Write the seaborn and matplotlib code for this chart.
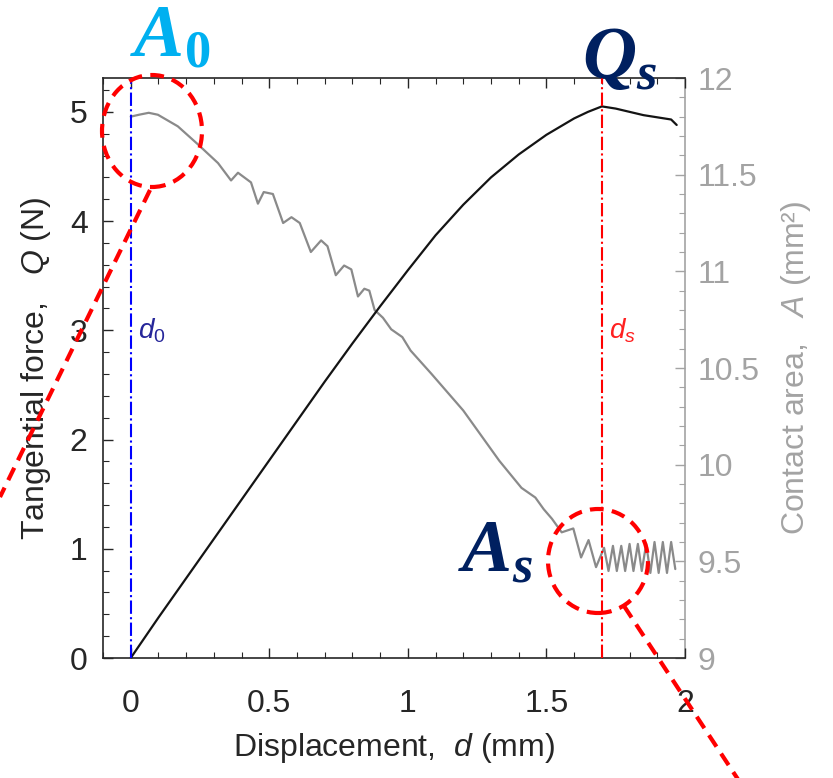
import matplotlib
matplotlib.use('Agg')
import matplotlib.pyplot as plt
import seaborn as sns
import pandas as pd
from matplotlib.patches import Ellipse
from matplotlib.lines import Line2D
from matplotlib.ticker import MultipleLocator

# ---------------- data ----------------
d_force = [0, 0.1, 0.2, 0.3, 0.4, 0.5, 0.6, 0.7, 0.8, 0.9, 1.0, 1.1, 1.2, 1.3,
           1.4, 1.5, 1.6, 1.65, 1.7, 1.75, 1.8, 1.85, 1.9, 1.95, 1.97]
force_Q = [0, 0.37, 0.73, 1.09, 1.45, 1.81, 2.17, 2.53, 2.88, 3.22, 3.55, 3.87,
           4.15, 4.40, 4.61, 4.79, 4.94, 5.00, 5.05, 5.03, 5.00, 4.97, 4.95,
           4.93, 4.88]

d_area = [0.0, 0.03, 0.065, 0.098, 0.17, 0.24, 0.315, 0.362, 0.387, 0.434,
          0.459, 0.48, 0.513, 0.55, 0.58, 0.61, 0.65, 0.687, 0.71, 0.74, 0.77,
          0.796, 0.82, 0.843, 0.861, 0.88, 0.91, 0.94, 0.96, 0.98, 1.01, 1.085,
          1.20, 1.33, 1.41, 1.46, 1.49, 1.52, 1.555, 1.597, 1.625, 1.652,
          1.679, 1.708, 1.724, 1.740, 1.754, 1.770, 1.784, 1.800, 1.814,
          1.830, 1.844, 1.860, 1.875, 1.890, 1.905, 1.920, 1.935, 1.950, 1.965]
area_A = [11.80, 11.81, 11.82, 11.81, 11.75, 11.66, 11.56, 11.47, 11.51, 11.46,
          11.35, 11.41, 11.40, 11.25, 11.28, 11.25, 11.10, 11.16, 11.13, 10.98,
          11.03, 11.01, 10.87, 10.91, 10.90, 10.80, 10.76, 10.70, 10.68, 10.66,
          10.59, 10.47, 10.28, 10.02, 9.88, 9.83, 9.77, 9.72, 9.65, 9.67, 9.52,
          9.61, 9.47, 9.57, 9.45, 9.58, 9.45, 9.58, 9.45, 9.59, 9.45, 9.59,
          9.45, 9.59, 9.44, 9.60, 9.44, 9.60, 9.44, 9.60, 9.46]

d0_value = 0.0
ds_value = 1.7

x_ticks = [0, 0.5, 1, 1.5, 2]
x_tick_labels = ['0', '0.5', '1', '1.5', '2']
left_ticks = [0, 1, 2, 3, 4, 5]
right_ticks = [9, 9.5, 10, 10.5, 11, 11.5, 12]
right_tick_labels = ['9', '9.5', '10', '10.5', '11', '11.5', '12']

# ---------------- style ----------------
sns.set_style('ticks')
plt.rcParams['font.family'] = ['Liberation Sans', 'DejaVu Sans']
plt.rcParams['mathtext.fontset'] = 'custom'
plt.rcParams['mathtext.rm'] = 'Liberation Sans'
plt.rcParams['mathtext.it'] = 'Liberation Sans:italic'
plt.rcParams['mathtext.bf'] = 'Liberation Serif:bold'
plt.rcParams['mathtext.bfit'] = 'Liberation Serif:italic:bold'

GRAY = '#a3a3a3'
BLACK = '#262626'

fig = plt.figure(figsize=(8.33, 7.78), dpi=100)
ax = fig.add_axes([103 / 833, 1 - 658 / 778, (685 - 103) / 833, (658 - 78) / 778])
ax2 = ax.twinx()

df_q = pd.DataFrame({'d': d_force, 'Q': force_Q})
df_a = pd.DataFrame({'d': d_area, 'A': area_A})

sns.lineplot(data=df_a, x='d', y='A', ax=ax2, color='#8a8a8a', lw=1.6, zorder=2)
sns.lineplot(data=df_q, x='d', y='Q', ax=ax, color='#141414', lw=1.6, zorder=3)
for ln in ax2.get_lines() + ax.get_lines():
    ln.set_solid_joinstyle('round')

ax.axvline(d0_value, color='#0000ff', ls='-.', lw=1.5, zorder=4)
ax.axvline(ds_value, color='#ff0000', ls='-.', lw=1.5, zorder=4)

ax.set_xlim(-0.1, 2.0)
ax.set_ylim(0, 5.31)
ax2.set_ylim(9, 12)

ax.set_xticks(x_ticks)
ax.set_xticklabels(x_tick_labels)
ax.set_yticks(left_ticks)
ax.xaxis.set_minor_locator(MultipleLocator(0.1))
ax.yaxis.set_minor_locator(MultipleLocator(0.2))
ax2.set_yticks(right_ticks)
ax2.set_yticklabels(right_tick_labels)
ax2.yaxis.set_minor_locator(MultipleLocator(0.1))

ax.tick_params(axis='x', which='both', direction='in', top=True, bottom=True,
               colors=BLACK, labelsize=23, pad=22)
ax.tick_params(axis='y', which='both', direction='in', left=True, right=False,
               colors=BLACK, labelsize=23, pad=11)
ax.tick_params(which='major', length=7, width=1)
ax.tick_params(which='minor', length=4, width=0.8)
ax2.tick_params(axis='y', which='both', direction='in', colors=GRAY,
                labelsize=23, pad=9)
ax2.tick_params(which='major', length=7, width=1)
ax2.tick_params(which='minor', length=4, width=0.8)

for side in ['left', 'bottom', 'top']:
    ax.spines[side].set_color(BLACK)
    ax.spines[side].set_linewidth(1.2)
ax.spines['right'].set_visible(False)
for side in ['left', 'bottom', 'top']:
    ax2.spines[side].set_visible(False)
ax2.spines['right'].set_color(GRAY)
ax2.spines['right'].set_linewidth(1.2)
ax2.spines['right'].set_visible(True)

ax.set_xlabel('Displacement,  $\\mathit{d}$ (mm)', fontsize=23, color=BLACK, labelpad=9)
ax.set_ylabel('Tangential force,   $\\mathit{Q}$ (N)', fontsize=23, color=BLACK, labelpad=12)
ax2.set_ylabel('Contact area,   $\\mathit{A}$ (mm²)', fontsize=23, color=GRAY, labelpad=14)

ax.set_zorder(ax2.get_zorder() + 1)
ax.patch.set_visible(False)

# d0 / ds labels
ax.text(0.027, 3.0, '$\\mathit{d}_{\\mathit{0}}$', color='#26269a', fontsize=20,
        ha='left', va='center')
ax.text(1.727, 3.0, '$\\mathit{d}_{\\mathit{s}}$', color='#ff2020', fontsize=20,
        ha='left', va='center')

# big annotation labels
fig.text(130 / 833, 1 - 56 / 778, '$\\mathbfit{A}_{\\mathbf{0}}$', color='#00b0f0',
         fontsize=54, ha='left', va='baseline')
fig.text(582 / 833, 1 - 78 / 778, '$\\mathbfit{Q}_{\\mathbfit{s}}$', color='#002060',
         fontsize=54, ha='left', va='baseline')
fig.text(458 / 833, 1 - 571 / 778, '$\\mathbfit{A}_{\\mathbfit{s}}$', color='#002060',
         fontsize=54, ha='left', va='baseline')

# red dashed circles and leader lines
dash = (0, (3.3, 2.0))
e1 = Ellipse((152 / 833, 1 - 131 / 778), 100 / 833, 112 / 778,
             transform=fig.transFigure, fill=False, edgecolor='#ff0000',
             lw=3, linestyle=dash, zorder=10)
e2 = Ellipse((598 / 833, 1 - 561 / 778), 100 / 833, 104 / 778,
             transform=fig.transFigure, fill=False, edgecolor='#ff0000',
             lw=3, linestyle=dash, zorder=10)
fig.add_artist(e1)
fig.add_artist(e2)
l1 = Line2D([150 / 833, 0 / 833], [1 - 190 / 778, 1 - 497 / 778],
            transform=fig.transFigure, color='#ff0000', lw=3, linestyle=dash)
l2 = Line2D([624 / 833, 745 / 833], [1 - 606 / 778, 1 - 790 / 778],
            transform=fig.transFigure, color='#ff0000', lw=3, linestyle=dash)
fig.add_artist(l1)
fig.add_artist(l2)

fig.savefig('out.png', dpi=100)
